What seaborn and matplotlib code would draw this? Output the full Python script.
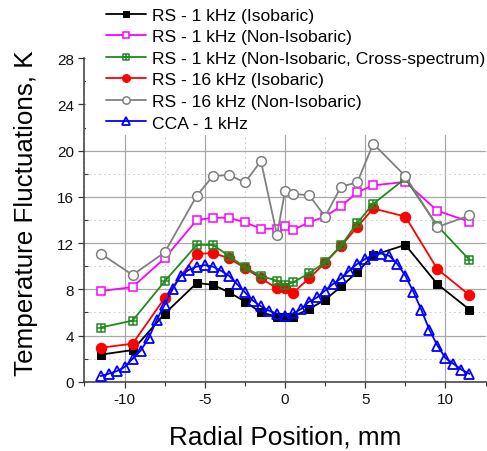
import numpy as np
import pandas as pd
import matplotlib
matplotlib.use("Agg")
import matplotlib.pyplot as plt
import seaborn as sns
from matplotlib.path import Path
from matplotlib.patches import Rectangle
from matplotlib.ticker import MultipleLocator

# ---------------- data ----------------
x_rs = [-11.5, -9.5, -7.5, -5.5, -4.5, -3.5, -2.5, -1.5, -0.5, 0, 0.5, 1.5, 2.5,
        3.5, 4.5, 5.5, 7.5, 9.5, 11.5]
rs_1k_iso = [2.35, 2.75, 5.9, 8.55, 8.4, 7.75, 6.95, 6.0, 5.65, 5.65, 5.65, 6.3,
             7.1, 8.25, 9.5, 10.95, 11.85, 8.45, 6.25]
rs_1k_noniso = [7.85, 8.2, 10.7, 14.0, 14.2, 14.2, 13.8, 13.25, 13.25, 13.45,
                13.15, 13.8, 14.3, 15.2, 16.4, 17.0, 17.3, 14.8, 13.85]
rs_1k_cross = [4.7, 5.3, 8.7, 11.85, 11.85, 10.9, 9.9, 9.15, 8.75, 8.4, 8.6, 9.4,
               10.35, 11.8, 13.75, 15.4, 17.6, 13.5, 10.55]
rs_16k_iso = [2.95, 3.3, 7.25, 11.05, 11.15, 10.7, 9.85, 8.95, 8.1, 8.1, 7.7,
              8.95, 10.3, 11.75, 13.4, 15.0, 14.3, 9.75, 7.5]
rs_16k_noniso = [11.1, 9.25, 11.2, 16.1, 17.8, 17.9, 17.25, 19.1, 12.7, 16.5,
                 16.25, 16.15, 14.3, 16.9, 17.25, 20.6, 17.8, 13.4, 14.4]

x_cca = [-11.5, -11.0, -10.5, -10.0, -9.5, -9.0, -8.5, -8.0, -7.5, -7.0, -6.5,
         -6.0, -5.5, -5.0, -4.5, -4.0, -3.5, -3.0, -2.5, -2.0, -1.5, -1.0, -0.5,
         0.0, 0.5, 1.0, 1.5, 2.0, 2.5, 3.0, 3.5, 4.0, 4.5, 5.0, 5.5, 6.0, 6.5,
         7.0, 7.5, 8.0, 8.5, 9.0, 9.5, 10.0, 10.5, 11.0, 11.5]
cca_1k = [0.5, 0.7, 0.92, 1.27, 2.0, 2.7, 3.77, 5.36, 6.68, 8.04, 9.19, 9.68,
          9.97, 10.1, 9.97, 9.62, 9.19, 8.47, 7.75, 7.03, 6.54, 6.16, 5.9,
          5.73, 5.93, 6.3, 6.94, 7.3, 7.9, 8.47, 8.96, 9.62, 10.2, 10.63, 10.97,
          11.1, 10.9, 10.2, 9.19, 7.8, 6.22, 4.5, 3.14, 2.05, 1.56, 1.06, 0.69]

labels = ["RS - 1 kHz (Isobaric)",
          "RS - 1 kHz (Non-Isobaric)",
          "RS - 1 kHz (Non-Isobaric, Cross-spectrum)",
          "RS - 16 kHz (Isobaric)",
          "RS - 16 kHz (Non-Isobaric)",
          "CCA - 1 kHz"]

x_ticks = [-10, -5, 0, 5, 10]
y_ticks = [0, 4, 8, 12, 16, 20, 24, 28]

# ---------------- style ----------------
sns.set_style("ticks")
plt.rcParams["font.family"] = ["Liberation Sans", "DejaVu Sans"]
plt.rcParams["axes.unicode_minus"] = False
plt.rcParams["text.color"] = "black"
plt.rcParams["axes.labelcolor"] = "black"

fig = plt.figure(figsize=(4.87, 4.52), dpi=100)
ax = fig.add_axes([0.1735, 0.153, 0.8235, 0.716])

# square-with-plus marker
sq_plus = Path([(-1, -1), (1, -1), (1, 1), (-1, 1), (-1, -1),
                (0, -1), (0, 1), (-1, 0), (1, 0)],
               [Path.MOVETO, Path.LINETO, Path.LINETO, Path.LINETO, Path.CLOSEPOLY,
                Path.MOVETO, Path.LINETO, Path.MOVETO, Path.LINETO])

green = "#1f8a1f"
series = [
    (x_rs, rs_1k_iso, labels[0], dict(color="black", marker="s", markersize=5.5,
                                      markerfacecolor="black", markeredgecolor="black", zorder=2)),
    (x_rs, rs_1k_noniso, labels[1], dict(color="#ff00ff", marker="s", markersize=5.5,
                                         markerfacecolor="white", markeredgecolor="#ff00ff",
                                         markeredgewidth=1.1, zorder=3)),
    (x_rs, rs_1k_cross, labels[2], dict(color=green, marker=sq_plus, markersize=5.5,
                                        markerfacecolor="none", markeredgecolor=green,
                                        markeredgewidth=1.1, zorder=4)),
    (x_rs, rs_16k_iso, labels[3], dict(color="#ff0000", marker="o", markersize=7.5,
                                       markerfacecolor="#ff0000", markeredgecolor="#ff0000",
                                       zorder=3.5)),
    (x_rs, rs_16k_noniso, labels[4], dict(color="#808080", marker="o", markersize=7,
                                          markerfacecolor="white", markeredgecolor="#808080",
                                          markeredgewidth=1.1, zorder=5)),
    (x_cca, cca_1k, labels[5], dict(color="#0000ff", marker="^", markersize=7,
                                    markerfacecolor="none", markeredgecolor="#0000ff",
                                    markeredgewidth=1.3, zorder=6)),
]

for xs, ys, lab, kw in series:
    df = pd.DataFrame({"x": xs, "y": ys})
    sns.lineplot(data=df, x="x", y="y", ax=ax, label=lab, sort=False,
                 estimator=None, linewidth=1.3, **kw)

if ax.get_legend() is not None:
    ax.get_legend().remove()

# axes limits / ticks
ax.set_xlim(-12.5, 12.5)
ax.set_ylim(0, 28)
ax.set_xticks(x_ticks)
ax.set_yticks(y_ticks)
ax.xaxis.set_minor_locator(MultipleLocator(2.5))
ax.yaxis.set_minor_locator(MultipleLocator(2))

ax.grid(True, which="major", color="#a8a8a8", linewidth=0.9, linestyle="-")
ax.grid(True, which="minor", color="#d0d0d0", linewidth=0.7, linestyle=(0, (2, 3)))
ax.set_axisbelow(True)

# white mask behind legend area (grid hidden there)
ax.add_patch(Rectangle((0.004, 0.762), 1.0, 0.3, transform=ax.transAxes,
                       facecolor="white", edgecolor="none", zorder=1))

for side in ["top", "right"]:
    ax.spines[side].set_visible(False)
for side in ["left", "bottom"]:
    ax.spines[side].set_color("#3a3a3a")
    ax.spines[side].set_linewidth(1.1)

ax.tick_params(axis="both", which="major", direction="out", length=4.5, width=0.9,
               color="#3a3a3a", labelsize=11, labelcolor="#111111", pad=3)
ax.tick_params(axis="y", which="minor", direction="in", length=3, width=0.8, color="#3a3a3a")
ax.tick_params(axis="x", which="minor", direction="out", length=3, width=0.8, color="#3a3a3a")

ax.set_xlabel("Radial Position, mm", fontsize=18.8)
ax.set_ylabel("Temperature Fluctuations, K", fontsize=18.7)
ax.xaxis.set_label_coords(0.5, -0.132)
ax.yaxis.set_label_coords(-0.117, 0.525)

handles, labs = ax.get_legend_handles_labels()
fig.legend(handles, labs, loc="upper left", bbox_to_anchor=(0.218, 0.981),
           frameon=False, fontsize=12.6, handlelength=2.3, handletextpad=0.3,
           labelspacing=0.36, borderpad=0, borderaxespad=0, markerscale=0.75)

fig.savefig("out.png", dpi=100)
